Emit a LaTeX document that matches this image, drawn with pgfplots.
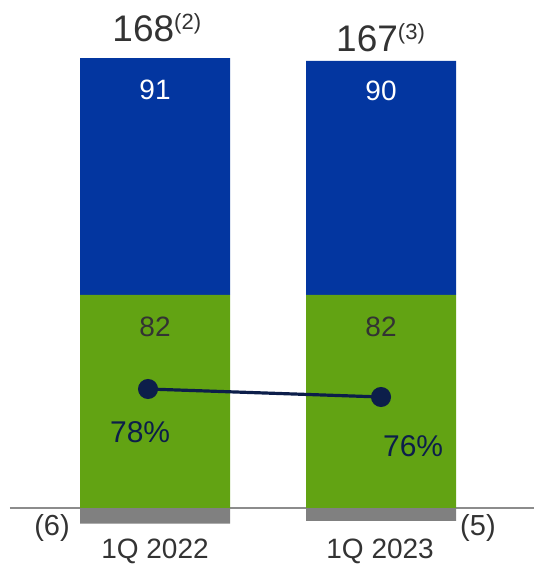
\documentclass[border=0pt]{standalone}
\usepackage{pgfplots}
\pgfplotsset{compat=1.18}
\usepackage{fontspec}
\setmainfont{Liberation Sans}
\definecolor{cgreen}{HTML}{62A313}
\definecolor{cblue}{HTML}{0336A0}
\definecolor{cnavy}{HTML}{0C1E4A}
\definecolor{cgray}{HTML}{808080}
\definecolor{cline}{HTML}{8C8C8C}
\definecolor{ctext}{HTML}{333333}
\pgfplotsset{
  base/.style={
    width=267pt, height=282pt, scale only axis,
    xmin=-0.686, xmax=1.677, enlargelimits=false,
    hide axis, clip=false,
  }
}
\begin{document}
\begin{tikzpicture}
% axis 1: baseline and negative segments
\begin{axis}[base, name=main, ymin=-21.54, ymax=195.38]
  \draw[cline, line width=1pt] (axis cs:-0.642,0) -- (axis cs:1.677,0);
  \addplot[ybar, bar width=75pt, bar shift=0pt, fill=cgray, draw=none]
    coordinates {(0,-6) (1,-5)};
\end{axis}
% axis 2: stacked bars
\begin{axis}[base, ymin=-21.54, ymax=195.38, ybar stacked, bar width=75pt]
  \addplot[fill=cgreen, draw=none] coordinates {(0,82) (1,82)};
  \addplot[fill=cblue, draw=none] coordinates {(0,91) (1,90)};
\end{axis}
% axis 3: labels in main units
\begin{axis}[base, ymin=-21.54, ymax=195.38]
  \node[font=\fontsize{14.5}{16}\selectfont, text=ctext] at (axis cs:-0.456,-7.6) {(6)};
  \node[font=\fontsize{14.5}{16}\selectfont, text=ctext] at (axis cs:1.429,-7.6) {(5)};
  \node[font=\fontsize{14}{16}\selectfont, text=ctext] at (axis cs:0,-16.8) {1Q 2022};
  \node[font=\fontsize{14}{16}\selectfont, text=ctext] at (axis cs:0.996,-16.8) {1Q 2023};
  \node[font=\fontsize{14}{16}\selectfont, text=ctext] at (axis cs:0,69.6) {82};
  \node[font=\fontsize{14}{16}\selectfont, text=ctext] at (axis cs:1,69.6) {82};
  \node[font=\fontsize{14}{16}\selectfont, text=white] at (axis cs:0,160.8) {91};
  \node[font=\fontsize{14}{16}\selectfont, text=white] at (axis cs:1,160.4) {90};
  \node[font=\fontsize{18.5}{20}\selectfont, text=ctext] at (axis cs:0.01,184.8) {168\textsuperscript{\fontsize{11}{12}\selectfont(2)}};
  \node[font=\fontsize{18.5}{20}\selectfont, text=ctext] at (axis cs:1.0,180.9) {167\textsuperscript{\fontsize{11}{12}\selectfont(3)}};
\end{axis}
% axis 4: percentage line
\begin{axis}[base, ymin=34.25, ymax=175.25]
  \addplot[cnavy, line width=1.6pt, mark=*, mark size=4.2pt, mark options={fill=cnavy, draw=cnavy}]
    coordinates {(-0.031,78) (1.0,76)};
  \node[font=\fontsize{15}{17}\selectfont, text=cnavy] at (axis cs:-0.066,67.25) {78\%};
  \node[font=\fontsize{15}{17}\selectfont, text=cnavy] at (axis cs:1.142,63.75) {76\%};
\end{axis}
\pgfresetboundingbox
\path[use as bounding box] (main.south west) rectangle (main.north east);
\end{tikzpicture}
\end{document}
